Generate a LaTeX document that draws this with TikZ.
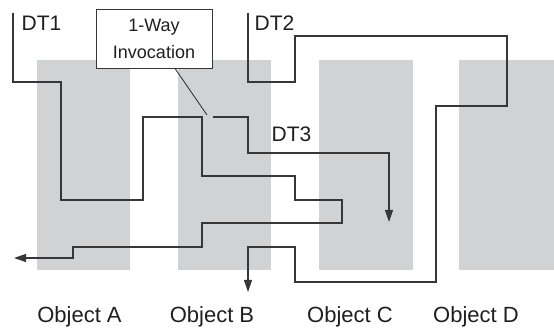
\documentclass[tikz,border=0pt]{standalone}
\usepackage{fontspec}
\setmainfont{Liberation Sans}
\usetikzlibrary{arrows.meta}
\definecolor{objgray}{RGB}{209,210,212}
\definecolor{wire}{RGB}{55,55,55}
\begin{document}
\begin{tikzpicture}[x=1pt,y=-1pt,
  objbox/.style={fill=objgray,draw=none,inner sep=0pt,anchor=north west,minimum width=93pt,minimum height=210pt},
  objlabel/.style={anchor=base,inner sep=0pt,font=\fontsize{22}{26}\selectfont,text=black!88},
  dtlabel/.style={anchor=base west,inner sep=0pt,font=\fontsize{21}{25}\selectfont,text=black!88},
  wireline/.style={draw=wire,line width=1.1pt,line join=miter},
  tip/.style={-{Triangle[length=12pt,width=8pt]}},
  callout/.style={draw=wire,line width=0.9pt,fill=white,inner sep=0pt,minimum width=116pt,minimum height=59pt,align=center,font=\fontsize{18}{27}\selectfont,text=black!88}
]
\useasboundingbox (0,0) rectangle (554,328);
% objects
\node[objbox] (objA) at (37,60) {};
\node[objbox] (objB) at (178,60) {};
\node[objbox,minimum width=94pt] (objC) at (319,60) {};
\node[objbox,minimum width=95pt] (objD) at (459,60) {};
\node[objlabel] (labA) at (79.5,322.5) {Object A};
\node[objlabel] (labB) at (212,322.5) {Object B};
\node[objlabel] (labC) at (350,322.5) {Object C};
\node[objlabel] (labD) at (476,322.5) {Object D};
% thread labels
\node[dtlabel] (dt1) at (21.5,31) {DT1};
\node[dtlabel] (dt2) at (254.5,31) {DT2};
\node[dtlabel] (dt3) at (271.5,142) {DT3};
% coordinates
\coordinate (s1) at (13,13);
\coordinate (e1) at (14,258);
\coordinate (s2) at (248,13);
\coordinate (e2) at (248,292);
\coordinate (s3) at (213,117);
\coordinate (e3) at (389,222);
\coordinate (gap) at (207,115);
% DT1
\draw[wireline,tip] (s1) -- (13,82) -- (61,82) -- (61,200) -- (143,200) -- (143,117) -- (202,117) -- (202,176) -- (295,176) -- (295,200) -- (342,200) -- (342,223) -- (202,223) -- (202,247) -- (73,247) -- (73,258) -- (e1);
% DT2
\draw[wireline,tip] (s2) -- (248,82) -- (295,82) -- (295,36) -- (507,36) -- (507,106) -- (436,106) -- (436,282) -- (295,282) -- (295,247) -- (248,247) -- (e2);
% DT3
\draw[wireline,tip] (s3) -- (248,117) -- (248,153) -- (389,153) -- (e3);
% callout
\node[callout] (inv) at (154,38.5) {1-Way\\Invocation};
\draw[draw=wire,line width=0.9pt] (inv.south) ++(21,0) coordinate (invc) -- (gap);
\end{tikzpicture}
\end{document}
